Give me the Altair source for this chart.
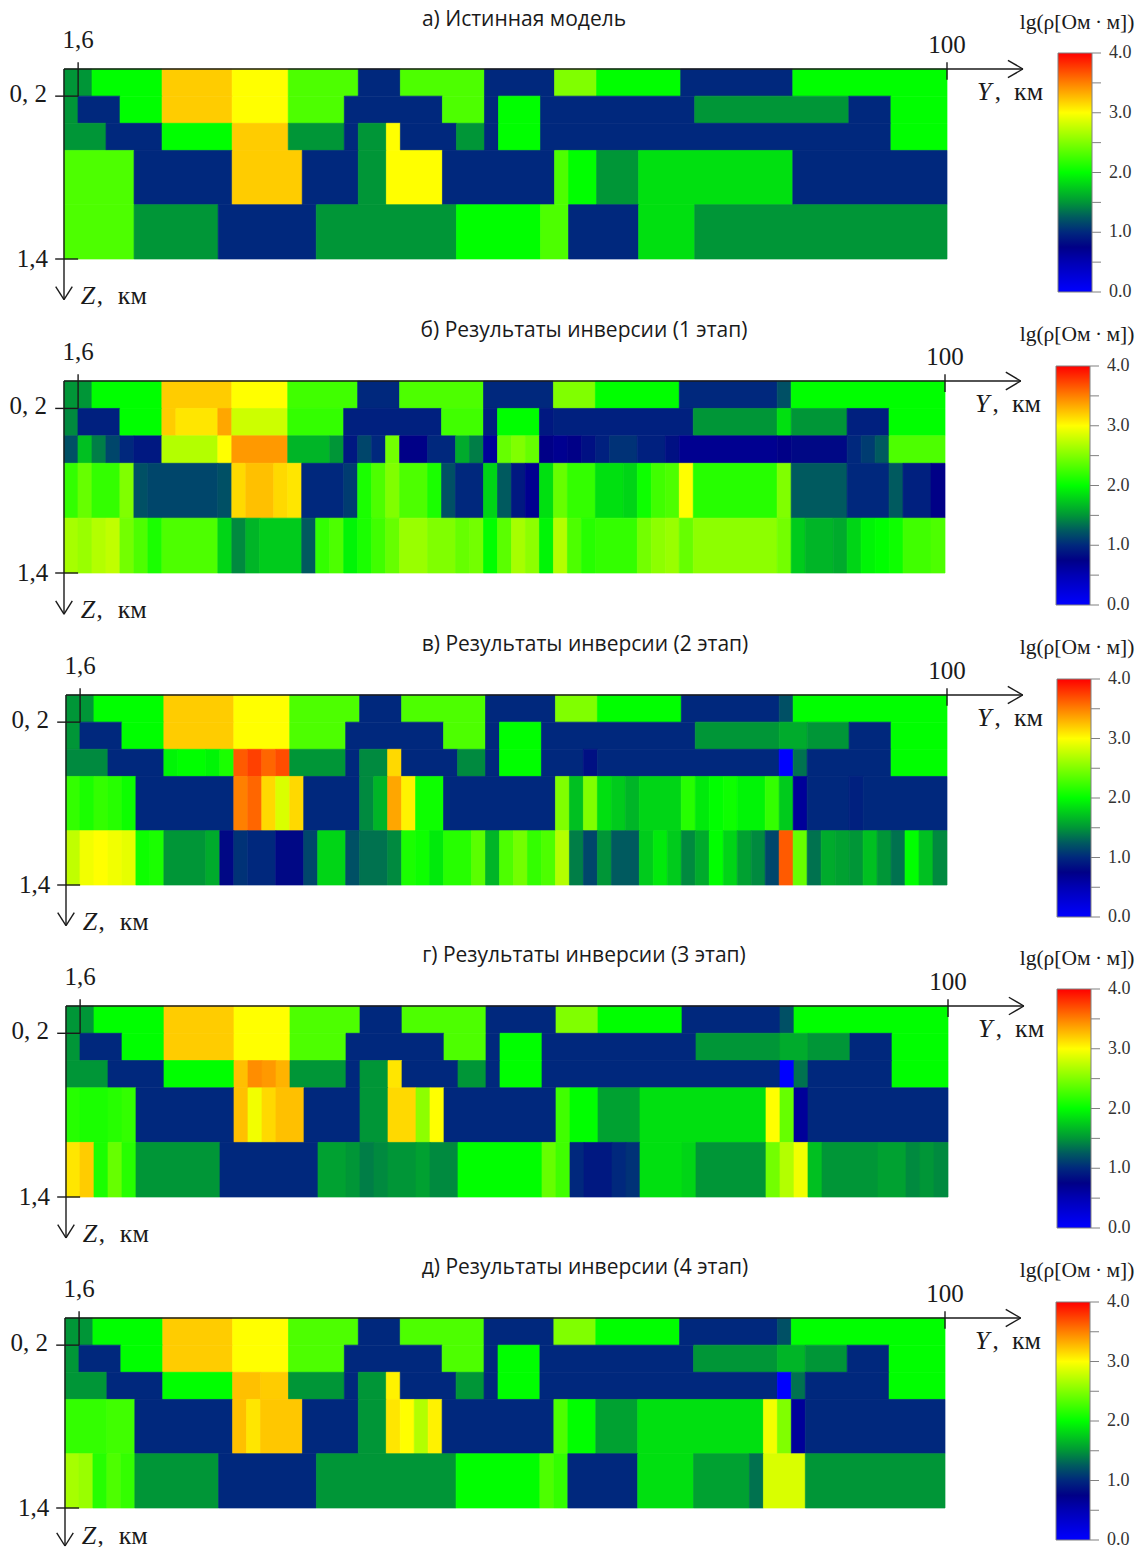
import altair as alt
import pandas as pd

# ---------- colour scale ----------
STOPS = [0, 0.5, 0.75, 1.0, 1.25, 1.5, 2.0, 2.5, 3.0, 3.5, 4.0]
COLORS = ["#0000ff", "#0000b4", "#000087", "#00287d", "#005a5f", "#009637",
          "#00ff00", "#80ff00", "#ffff00", "#ff8000", "#ff0000"]

Z_EDGES = [0, 0.2, 0.4, 0.6, 1.0, 1.4]
N_COL = 63

# ---------- а) true model ----------
a0 = [1.5]*2+[2]*5+[3.2]*5+[3]*4+[2.3]*5+[1]*3+[2.3]*6+[1]*5+[2.5]*3+[2]*6+[1]*8+[2]*11
a1 = [1.5]+[1]*3+[2]*3+[3.2]*5+[3]*4+[2.3]*4+[1]*7+[2.3]*3+[1]+[2]*3+[1]*11+[1.5]*11+[1]*3+[2]*4
a2 = [1.5]*3+[1]*4+[2]*5+[3.2]*4+[1.5]*4+[1]+[1.5]*2+[3]+[1]*4+[1.5]*2+[1]+[2]*3+[1]*25+[2]*4
a3 = [2.3]*5+[1]*7+[3.2]*5+[1]*4+[1.5]*2+[3]*4+[1]*8+[2.3]+[2]*2+[1.5]*3+[1.85]*11+[1]*11
a4 = [2.3]*5+[1.5]*6+[1]*7+[1.5]*10+[2]*6+[2.3]*2+[1]*5+[1.85]*4+[1.5]*18

# ---------- б) stage 1 ----------
b0 = [1.5]*2+[2]*5+[3.2]*5+[3]*4+[2.25]*5+[1]*3+[2.3]*6+[1]*5+[2.5]*3+[2]*6+[1]*7+[1.2]+[2]*11
b1 = [1.45]+[.95]*3+[2]*3+[3.2,3.1,3.1,3.1,3.35]+[2.8]*4+[2.2]*4+[.95]*7+[2.25]*3+[.95]+[2]*3+[.9]+[.95]*10+[1.5]*6+[1.85]+[1.5]*4+[.95]*3+[2]*4
b2 = [1.2,1.7,1.4,1.15,1.0,.9,.9]+[2.7]*4+[3.0]+[3.4]*4+[1.65]*3+[1.5,.9,1.15,1.0,2.45,.75,.75,1.0,1.0,1.6,1.4,.65,2.4,2.5,2.4,.75,.7,.75,.85,.95,1.05,1.05,.95,.95,.85]+[.7]*7+[.75]+[.8]*4+[1.0,1.1,1.25]+[2.3]*4
b3 = [2.2,2.4,2.2,2.2,2.5,1.2]+[1.15]*5+[1.2,3.15,3.25,3.25,3.15,3.1]+[1.0]*3+[1.1,2.1,2.3,2.5,2.3,2.3,2.1,1.2,1.0,1.0,1.8,1.25,.9,.7,1.85,2.4,2.2,2.2,1.85,1.85,1.8,2.05,2.25,2.3,3.0]+[2.15]*6+[2.5]+[1.25]*4+[1.0]*3+[1.25,.95,.95,.75]
b4 = [2.65,2.6,2.7,2.75,2.45,2.3,2.1]+[2.3]*4+[1.8,1.45,1.65,1.75,1.75,1.75,1.25,2.2,2.3,1.95,2.1,2.25,2.4,2.6,2.6,2.5,2.5,2.4,2.45,2.0,2.35,2.65,2.55,1.95,2.7,2.3,2.15]+[2.2]*3+[2.45,2.55,2.6,2.4]+[2.55]*6+[2.45,1.75,1.65,1.65,1.6,1.8,1.95,2.0,2.05,2.25,2.25,2.3]

# ---------- в) stage 2 ----------
v0 = [1.5]*2+[2]*5+[3.2]*5+[3]*4+[2.3]*5+[1]*3+[2.3]*6+[1]*5+[2.5]*3+[2]*6+[1]*7+[1.2]+[2]*11
v1 = [1.5]+[1]*3+[2]*3+[3.2]*5+[3]*4+[2.3]*4+[1]*7+[2.3]*3+[1]+[2]*3+[1]*11+[1.5]*6+[1.6]*2+[1.5]*3+[1]*3+[2]*4
v2 = [1.45]*3+[1]*4+[1.95,2,2,1.95,2.1,3.65,3.75,3.6,3.7]+[1.5]*4+[1,1.45,1.45,3.15]+[1]*4+[1.45,1.45,1]+[2]*3+[1]*3+[.85]+[1]*13+[0,1.35]+[1]*6+[2]*4
v3 = [2.2,2.1,2.2,2.15,2.05]+[1]*7+[3.5,3.6,3.15,2.85,3.15]+[1]*4+[1.45,1.65,3.35,3.05,2.05,2.05]+[1]*8+[2.5,1.7,2.5,1.85,1.75,1.65,1.8,1.8,1.8,2.15,1.9,2.0,2.05,1.95,1.95,2.2,1.75,.65,1,1,1,.95]+[1]*6
v4 = [2.75,2.95,3,2.95,2.9,2.05,2.1,1.5,1.5,1.5,1.6,.8,1.05,1,1,.8,.8,1.15,1.8,1.8,1.2,1.35,1.35,1.45,2.1,2.05,1.9,2.15,2.15,2.35,1.65,2.3,2.45,2.2,2.3,2.7,1.4,1.15,1.5,1.25,1.25,1.75,1.9,1.75,1.45,1.6,2.0,1.8,1.55,1.45,1.15,3.65,2.4,1.35,1.6,1.55,1.5,1.7,1.5,1.35,2.0,1.7,1.45]

# ---------- г) stage 3 ----------
g0 = v0
g1 = v1
g2 = [1.5]*3+[1]*4+[2]*5+[3.25,3.45,3.4,3.3]+[1.5]*4+[1,1.5,1.5,3.1]+[1]*4+[1.5,1.5,1]+[2]*3+[1]*17+[0,1.35]+[1]*6+[2]*4
g3 = [2.15,2.1,2.1,2.15,2.2]+[1]*7+[3.25,2.95,3.15,3.25,3.25]+[1]*4+[1.5,1.5,3.15,3.15,2.55,3.0]+[1]*8+[2.25,2,2]+[1.55]*3+[1.85]*9+[3.0,2.4,.65]+[1]*10
g4 = [3.1,3.2,2.1,2.4,2.15]+[1.5]*6+[1]*7+[1.55,1.55,1.5,1.4,1.45,1.5,1.5,1.55,1.45,1.45]+[2]*6+[2.4,2.25,1,.9,.9,1,1.05,1.85,1.85,1.85,1.8]+[1.5]*5+[2.45,2.7,2.95,1.7]+[1.5]*4+[1.55,1.55,1.45,1.5,1.45]

# ---------- д) stage 4 ----------
d0 = v0
d1 = [1.5]+[1]*3+[2]*3+[3.2]*5+[3]*4+[2.3]*4+[1]*7+[2.3]*3+[1]+[2]*3+[1]*11+[1.5]*6+[1.65]*2+[1.5]*3+[1]*3+[2]*4
d2 = [1.5]*3+[1]*4+[2]*5+[3.25,3.25,3.2,3.2]+[1.5]*4+[1,1.5,1.5,3.05]+[1]*4+[1.5,1.5,1]+[2]*3+[1]*17+[0,1.35]+[1]*6+[2]*4
d3 = [2.2,2.2,2.2,2.25,2.25]+[1]*7+[3.25,3.1,3.22,3.22,3.22]+[1]*4+[1.5,1.5,3.1,3.0,2.7,3.05]+[1]*8+[2.3,2,2]+[1.55]*3+[1.85]*9+[2.95,2.5,.65]+[1]*10
d4 = [2.65,2.6,2.15,2.3,2.2]+[1.5]*6+[1]*7+[1.5]*10+[2]*6+[2.3,2.2]+[1]*5+[1.85]*4+[1.55]*4+[1.35]+[2.85]*3+[1.5]*10

TITLES = ["а) Истинная модель", "б) Результаты инверсии (1 этап)", "в) Результаты инверсии (2 этап)",
          "г) Результаты инверсии (3 этап)", "д) Результаты инверсии (4 этап)"]
GRIDS = [[a0,a1,a2,a3,a4],[b0,b1,b2,b3,b4],[v0,v1,v2,v3,v4],[g0,g1,g2,g3,g4],[d0,d1,d2,d3,d4]]

# page geometry of each panel (ze: end of the Z arrow, zt: baseline of the Z label)
GEOM = [
    dict(l=64, r=947, t=69,   b=259,  cl=1058, ct=53,   cb=292,  ty=26,   tx=524, cty=29,   ctx=1077, ze=1.70, zt=1.728),
    dict(l=64, r=945, t=381,  b=573,  cl=1056, ct=366,  cb=605,  ty=337,  tx=584, cty=341,  ctx=1077, ze=1.70, zt=1.728),
    dict(l=66, r=947, t=695,  b=885,  cl=1057, ct=679,  cb=917,  ty=651,  tx=585, cty=654,  ctx=1077, ze=1.70, zt=1.728),
    dict(l=66, r=948, t=1006, b=1197, cl=1057, ct=989,  cb=1228, ty=962,  tx=584, cty=965,  ctx=1077, ze=1.70, zt=1.728),
    dict(l=65, r=945, t=1318, b=1508, cl=1056, ct=1302, cb=1540, ty=1274, tx=585, cty=1277, ctx=1077, ze=1.68, zt=1.665),
]
OFF = 8
SERIF = "Liberation Serif"
INK = "#1a1a1a"


def heat_frame(grid):
    """One rectangle per run of equal neighbouring cells, so no seams show inside a block."""
    rows = []
    for i, row in enumerate(grid):
        assert len(row) == N_COL, (i, len(row))
        start = 0
        for k in range(1, N_COL + 1):
            if k == N_COL or row[k] != row[start]:
                rows.append(dict(x=start*100/N_COL, x2=k*100/N_COL, z=Z_EDGES[i], z2=Z_EDGES[i+1], v=row[start]))
                start = k
    return pd.DataFrame(rows)


def scales(g):
    sx = alt.Scale(domain=[0, 100], range=[g["l"]-OFF, g["r"]-OFF], nice=False, zero=False)
    sy = alt.Scale(domain=[0, 1.4], range=[g["t"]-OFF, g["b"]-OFF], nice=False, zero=False)
    return sx, sy


color_scale = alt.Scale(domain=STOPS, range=COLORS, interpolate="rgb")
layers = []


def text_layer(rows, g, size, style="normal", align="left"):
    sx, sy = scales(g)
    return alt.Chart(pd.DataFrame(rows, columns=["x", "z", "t"])).mark_text(
        font=SERIF, fontSize=size, fontStyle=style, align=align, baseline="alphabetic", color=INK
    ).encode(
        x=alt.X("x:Q", scale=sx, axis=None),
        y=alt.Y("z:Q", scale=sy, axis=None),
        text="t:N",
    )


for grid, title, g in zip(GRIDS, TITLES, GEOM):
    sx, sy = scales(g)
    ze, zt = g["ze"], g["zt"]
    layers.append(
        alt.Chart(heat_frame(grid)).mark_rect(strokeWidth=0.7).encode(
            x=alt.X("x:Q", scale=sx, axis=None), x2="x2:Q",
            y=alt.Y("z:Q", scale=sy, axis=None), y2="z2:Q",
            color=alt.Color("v:Q", scale=color_scale, legend=None),
            stroke=alt.Stroke("v:Q", scale=color_scale, legend=None),
        )
    )
    # axes, ticks and arrow heads
    axis_lines = pd.DataFrame(
        [
            (0, 108.6, 0, 0),          # Y axis
            (0, 0, 0, ze),             # Z axis
            (106.9, 108.6, -0.064, 0),
            (106.9, 108.6, 0.064, 0),
            (-0.94, 0, ze-0.097, ze),
            (0.94, 0, ze-0.097, ze),
            (1.6, 1.6, -0.05, 0.2),
            (-1.0, 1.6, 0.2, 0.2),
            (-1.0, 1.6, 1.4, 1.4),
            (100, 100, -0.05, 0.08),
        ],
        columns=["x", "x2", "z", "z2"],
    )
    layers.append(
        alt.Chart(axis_lines).mark_rule(color=INK, strokeWidth=1.4).encode(
            x=alt.X("x:Q", scale=sx, axis=None), x2="x2:Q",
            y=alt.Y("z:Q", scale=sy, axis=None), y2="z2:Q",
        )
    )
    layers.append(text_layer([(1.6, -0.155, "1,6"), (100, -0.118, "100")], g, 25, align="center"))
    layers.append(text_layer([(-1.93, 0.244, "0, 2"), (-1.8, 1.459, "1,4")], g, 25, align="right"))
    layers.append(text_layer([(1.9, zt, "Z"), (103.4, 0.228, "Y")], g, 26, style="italic"))
    layers.append(text_layer([(3.7, zt, ","), (105.4, 0.228, ",")], g, 25))
    layers.append(text_layer([(6.1, zt, "км"), (107.6, 0.228, "км")], g, 26))
    # panel title
    layers.append(
        alt.Chart(pd.DataFrame({"t": [title]})).mark_text(
            font="Open Sans", fontSize=21, align="center", baseline="alphabetic", color=INK
        ).encode(x=alt.value(g["tx"]-OFF), y=alt.value(g["ty"]-OFF), text="t:N")
    )
    # colour bar
    sc = alt.Scale(domain=[0, 4], range=[g["cb"]-OFF, g["ct"]-OFF], nice=False, zero=False)
    xl, xr = g["cl"]-OFF, g["cl"]+34-OFF
    gradient = alt.Gradient(
        gradient="linear", x1=0, y1=1, x2=0, y2=0,
        stops=[alt.GradientStop(offset=s/4, color=c) for s, c in zip(STOPS, COLORS)],
    )
    layers.append(
        alt.Chart(pd.DataFrame({"lo": [0], "hi": [4]})).mark_rect(
            fill=gradient, stroke="#808080", strokeWidth=1
        ).encode(
            x=alt.value(xl), x2=alt.value(xr),
            y=alt.Y("lo:Q", scale=sc, axis=None), y2="hi:Q",
        )
    )
    layers.append(
        alt.Chart(pd.DataFrame({"v": [0, .5, 1, 1.5, 2, 2.5, 3, 3.5, 4]})).mark_rule(
            color="#808080", strokeWidth=1
        ).encode(
            x=alt.value(xr), x2=alt.value(xr+9),
            y=alt.Y("v:Q", scale=sc, axis=None),
        )
    )
    layers.append(
        alt.Chart(pd.DataFrame({"v": [0, 1, 2, 3, 4], "t": ["0.0", "1.0", "2.0", "3.0", "4.0"]})).mark_text(
            font=SERIF, fontSize=18, align="left", baseline="middle", color="#333333"
        ).encode(
            x=alt.value(xr+17),
            y=alt.Y("v:Q", scale=sc, axis=None),
            text="t:N",
        )
    )
    layers.append(
        alt.Chart(pd.DataFrame({"t": ["lg(ρ[Ом\u2009·\u2009м])"]})).mark_text(
            font=SERIF, fontSize=21.5, align="center", baseline="alphabetic", color=INK
        ).encode(x=alt.value(g["ctx"]-OFF), y=alt.value(g["cty"]-OFF), text="t:N")
    )

chart = (
    alt.layer(*layers)
    .resolve_scale(x="independent", y="independent")
    .properties(width=1129, height=1539, padding=0, autosize=alt.AutoSizeParams(type="none"))
    .configure_view(stroke=None)
)
chart.save("out.html", embed_options={"renderer": "svg", "actions": False})
